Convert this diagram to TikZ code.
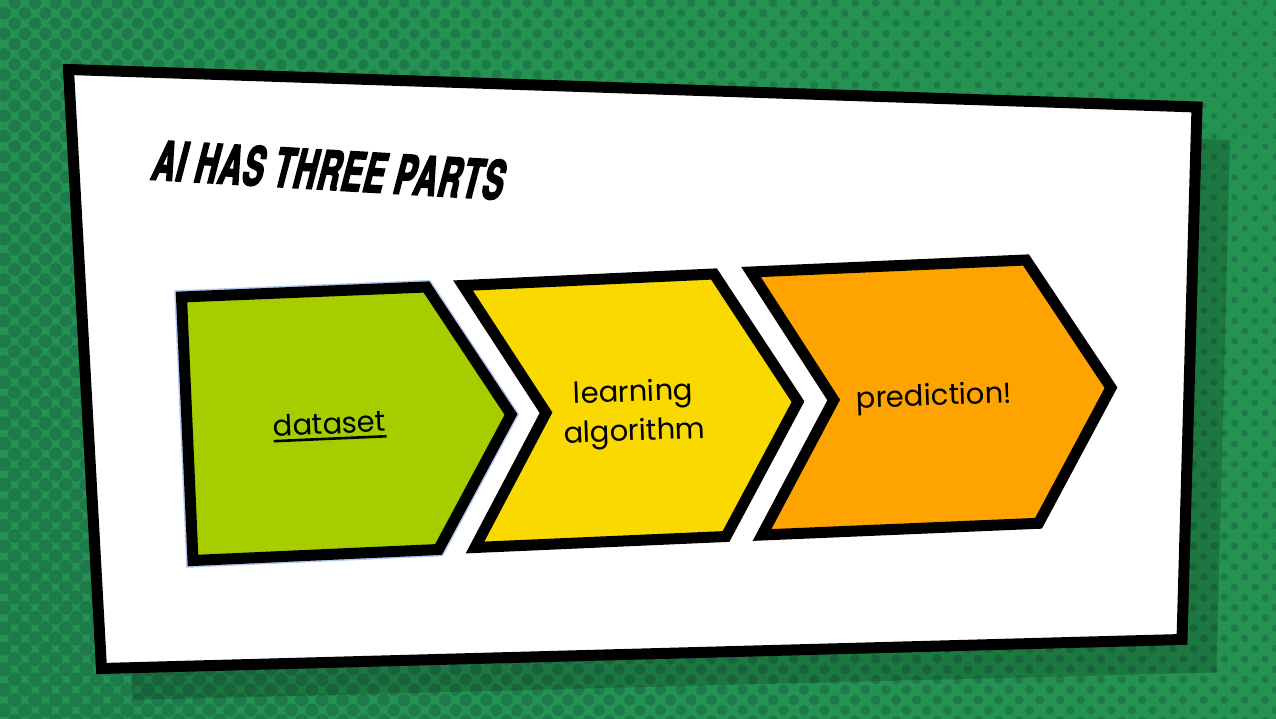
\documentclass[tikz,border=0pt]{standalone}
\usepackage{fontspec}
\setmainfont{Poppins}
\newfontfamily\titlefont{TeX Gyre Heros}[FakeStretch=0.57,FakeSlant=0.2,FakeBold=3,LetterSpace=3]
\definecolor{bggreen}{RGB}{36,146,80}
\definecolor{dotgreen}{RGB}{30,122,74}
\definecolor{chevgreen}{RGB}{166,205,0}
\definecolor{chevyellow}{RGB}{249,217,0}
\definecolor{chevorange}{RGB}{255,163,0}
\definecolor{selblue}{RGB}{180,200,240}
% thick underline for short labels
\newcommand\thickul[1]{\setbox0\hbox{#1}\rlap{\rule[-6pt]{\wd0}{2.6pt}}\box0}
\tikzset{
  card/.style={fill=white,draw=black,line width=11pt,line join=miter},
  chevron/.style={draw=black,line width=11pt,line join=miter},
  label/.style={font=\fontsize{29}{39}\selectfont,text=black,inner sep=0pt},
}
\begin{document}
\begin{tikzpicture}[x=1pt,y=-1pt]
\useasboundingbox (0,0) rectangle (1276,719);
% halftone background
\fill[bggreen] (0,0) rectangle (1276,719);
\foreach \j in {0,...,72}{
  \pgfmathsetmacro\yy{-7.25+10.25*\j}
  \pgfmathsetmacro\xo{isodd(\j) ? 14.7 : 4.45}
  \foreach \i in {0,...,63}{
    \pgfmathsetmacro\xx{\xo+20.5*\i}
    \pgfmathsetmacro\rr{min(7,6.2-3.6*\xx/1276+1.2*\yy/719)}
    \fill[dotgreen] (\xx,\yy) circle[radius=\rr pt];
  }
}
% drop shadow of the card
\fill[black,opacity=0.18] (100,102) -- (1230,140) -- (1216.5,672.5) -- (133,700) -- cycle;
% card
\draw[card] (68.5,69.5) -- (1197,107) -- (1182,639.5) -- (101.5,668.5) -- cycle;
% title
\node[font=\titlefont\bfseries\fontsize{54}{54}\selectfont,anchor=base,rotate=-3.3,inner sep=0pt] (title) at (325,189.5) {AI HAS THREE PARTS};
% chevrons
\draw[selblue,line width=14pt,line join=miter] (181.5,297) -- (426.5,287) -- (511,414.5) -- (438.5,549.5) -- (193,560.5) -- cycle;
\draw[chevron,fill=chevgreen] (181.5,297) -- (426.5,287) -- (511,414.5) -- (438.5,549.5) -- (193,560.5) -- cycle;
\draw[chevron,fill=chevyellow] (463,285.5) -- (714,274) -- (798,401.7) -- (726,536.5) -- (475,547.5) -- (546,412.7) -- cycle;
\draw[chevron,fill=chevorange] (751,272) -- (1026,260) -- (1111,387.7) -- (1038.5,523.3) -- (762,535) -- (833.7,400) -- cycle;
% labels
\node[label,anchor=base,rotate=2.5] (dataset) at (330,434) {\thickul{dataset}};
\node[label,align=center,rotate=2] (algo) at (634,414) {learning\\algorithm};
\node[label,anchor=base,rotate=2] (pred) at (934.5,405.5) {prediction!};
\end{tikzpicture}
\end{document}
